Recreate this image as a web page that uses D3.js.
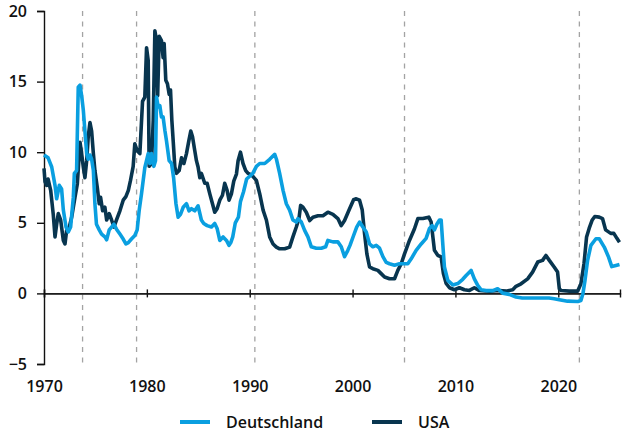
<!DOCTYPE html>
<html><head><meta charset="utf-8">
<script src="https://cdn.jsdelivr.net/npm/d3@7"></script>
<style>
html,body{margin:0;padding:0;background:#fff;}
svg{display:block;font-family:"Open Sans",sans-serif;}
</style></head>
<body><svg id="c" width="622" height="434"></svg>
<script>
// ---- data ----
const seriesNames = ["Deutschland", "USA"];
const colors = ["#0a9fe0", "#08354f"];
const yTicks = [-5, 0, 5, 10, 15, 20];
const xTicks = [1970, 1980, 1990, 2000, 2010, 2020];
const markerYears = [1973.75, 1979.0, 1990.5, 2005.05, 2022.05];

const deYears = [1970.0,1970.4,1970.75,1971.07,1971.23,1971.49,1971.71,1971.88,1972.14,1972.36,1972.59,1972.85,1972.95,1973.17,1973.33,1973.5,1973.66,1973.82,1973.98,1974.15,1974.3,1974.47,1974.63,1974.8,1974.95,1975.1,1975.37,1975.6,1975.92,1976.09,1976.34,1976.57,1976.8,1977.05,1977.38,1977.7,1977.96,1978.2,1978.5,1978.83,1979.06,1979.25,1979.48,1979.8,1980.03,1980.13,1980.29,1980.45,1980.68,1980.84,1980.94,1981.1,1981.26,1981.42,1981.58,1981.75,1981.91,1982.17,1982.4,1982.6,1982.83,1983.04,1983.27,1983.53,1983.85,1984.1,1984.34,1984.66,1984.98,1985.3,1985.53,1985.86,1986.28,1986.6,1986.83,1987.09,1987.41,1987.74,1987.99,1988.16,1988.35,1988.6,1988.9,1989.1,1989.4,1989.7,1990.0,1990.3,1990.65,1990.97,1991.46,1991.94,1992.43,1992.6,1992.91,1993.24,1993.56,1993.88,1994.2,1994.53,1994.69,1995.02,1995.34,1995.66,1995.99,1996.47,1996.96,1997.38,1997.6,1998.09,1998.57,1998.9,1999.22,1999.54,1999.75,2000.1,2000.4,2000.68,2001.0,2001.33,2001.65,2001.97,2002.3,2002.62,2002.95,2003.27,2003.59,2004.08,2004.56,2005.05,2005.37,2005.7,2006.18,2006.67,2007.15,2007.48,2007.73,2007.96,2008.19,2008.45,2008.61,2008.77,2008.93,2009.26,2009.74,2010.23,2010.71,2011.04,2011.52,2011.84,2012.17,2012.5,2012.98,2013.63,2014.1,2014.6,2015.24,2015.89,2016.5,2017.8,2019.1,2019.6,2020.1,2020.9,2021.9,2022.2,2022.4,2022.6,2022.85,2023.17,2023.66,2023.98,2024.47,2024.89,2025.2,2025.6,2025.95];
const deValues = [9.8,9.6,8.95,7.65,6.7,7.65,7.4,5.9,4.7,4.35,4.7,6.8,8.5,8.7,14.6,14.75,14.0,13.0,11.5,9.9,9.5,9.8,9.5,8.7,6.35,4.9,4.5,4.2,4.0,3.8,4.5,4.7,4.9,4.55,4.2,3.85,3.5,3.6,3.85,4.1,4.5,5.85,7.05,8.9,9.6,9.9,9.2,9.9,9.0,9.4,13.9,13.2,13.3,12.5,12.5,11.55,10.8,9.4,9.2,8.2,6.35,5.4,5.6,6.1,6.35,5.85,6.0,5.85,6.2,5.2,4.95,4.8,4.7,4.95,4.6,3.75,4.0,3.75,3.4,3.6,4.0,5.0,5.4,6.5,7.2,8.1,8.3,8.5,9.0,9.2,9.2,9.5,9.85,9.5,8.5,7.3,6.35,5.9,5.2,5.05,5.3,5.05,4.46,4.0,3.3,3.2,3.2,3.3,3.75,3.65,3.65,3.3,2.6,3.05,3.4,4.1,4.7,5.05,4.7,4.35,3.5,3.3,3.4,3.2,2.6,2.2,2.1,2.0,2.1,2.1,2.1,2.45,3.05,3.5,3.9,4.6,4.8,4.5,4.9,5.2,5.2,3.5,1.87,0.92,0.6,0.7,1.0,1.27,1.63,1.03,0.57,0.26,0.2,0.2,0.33,0.02,-0.07,-0.26,-0.33,-0.33,-0.33,-0.38,-0.45,-0.55,-0.57,-0.5,0.0,0.94,2.34,3.4,3.87,3.87,3.28,2.57,1.9,1.98,2.05];

const usYears = [1970.0,1970.1,1970.26,1970.4,1970.65,1970.9,1971.07,1971.23,1971.39,1971.62,1971.88,1972.04,1972.2,1972.46,1972.69,1973.01,1973.24,1973.5,1973.66,1973.82,1973.98,1974.15,1974.3,1974.47,1974.63,1974.8,1974.95,1975.18,1975.37,1975.5,1975.7,1975.92,1976.09,1976.34,1976.57,1976.8,1977.05,1977.38,1977.7,1977.96,1978.2,1978.41,1978.67,1978.83,1979.06,1979.32,1979.58,1979.8,1979.97,1980.13,1980.22,1980.45,1980.62,1980.78,1980.94,1981.05,1981.2,1981.42,1981.58,1981.68,1981.84,1982.0,1982.17,1982.3,1982.43,1982.56,1982.72,1982.88,1983.14,1983.37,1983.6,1983.85,1984.08,1984.27,1984.44,1984.66,1984.82,1984.98,1985.15,1985.3,1985.63,1985.86,1986.12,1986.38,1986.6,1986.83,1987.09,1987.35,1987.57,1987.8,1987.99,1988.22,1988.45,1988.71,1988.87,1989.1,1989.35,1989.61,1989.84,1990.17,1990.65,1990.97,1991.3,1991.62,1991.94,1992.27,1992.59,1992.91,1993.4,1993.88,1994.2,1994.53,1994.79,1994.95,1995.18,1995.5,1995.83,1996.15,1996.64,1997.12,1997.6,1998.09,1998.57,1998.9,1999.22,1999.71,2000.1,2000.36,2000.68,2000.94,2001.17,2001.39,2001.65,2001.97,2002.46,2002.78,2003.11,2003.59,2004.08,2004.4,2004.73,2005.05,2005.53,2006.02,2006.35,2006.83,2007.41,2007.64,2007.96,2008.28,2008.61,2008.83,2009.1,2009.42,2009.9,2010.39,2010.87,2011.36,2011.84,2012.3,2013.3,2014.27,2014.92,2015.57,2015.89,2016.38,2017.02,2017.5,2018.0,2018.47,2018.8,2019.13,2019.6,2019.93,2020.1,2020.26,2021.07,2021.88,2022.2,2022.5,2022.75,2023.0,2023.3,2023.55,2023.98,2024.3,2024.6,2025.1,2025.4,2025.7,2025.95];
const usValues = [8.85,7.9,7.65,8.1,7.3,5.6,4.0,4.9,5.65,5.2,3.75,3.5,4.45,4.7,5.4,6.8,7.75,10.7,9.9,8.95,8.2,9.4,11.1,12.1,11.5,9.9,8.7,7.5,6.35,6.8,5.85,6.1,5.2,5.65,5.2,4.7,5.2,5.85,6.6,6.85,7.3,8.0,9.0,10.6,10.1,9.9,13.6,13.9,17.4,16.5,9.0,9.2,12.25,18.6,17.9,14.0,18.2,17.9,16.7,17.7,15.1,14.85,14.1,14.4,12.25,10.8,8.95,8.5,8.7,9.6,9.2,9.9,10.8,11.5,11.1,10.1,9.4,8.95,8.2,8.5,7.8,7.8,7.05,6.35,5.75,6.0,6.6,6.95,7.8,7.3,6.6,7.05,7.95,8.45,9.4,10.0,9.2,8.7,8.5,8.4,8.0,7.06,5.9,5.2,4.0,3.5,3.28,3.16,3.16,3.28,4.0,4.7,5.3,6.23,6.1,5.75,5.16,5.4,5.5,5.5,5.75,5.6,5.3,4.8,5.16,6.0,6.63,6.7,6.6,5.9,4.2,2.8,1.87,1.75,1.63,1.4,1.16,1.04,1.04,1.63,2.1,2.8,3.75,4.58,5.3,5.3,5.4,5.05,3.05,2.7,2.58,1.4,0.7,0.4,0.26,0.4,0.26,0.21,0.4,0.21,0.16,0.2,0.16,0.26,0.5,0.68,1.03,1.51,2.22,2.34,2.69,2.34,1.87,1.51,0.33,0.2,0.16,0.16,0.68,2.1,4.0,4.6,5.2,5.45,5.4,5.3,4.5,4.25,4.25,3.9,3.63];

// ---- chart ----
const svg = d3.select("#c");
const x = d3.scaleLinear().domain([1970, 2026]).range([44, 620]);
const y = d3.scaleLinear().domain([-5, 20]).range([364, 11]);
const fontSize = 16;

// dashed markers
svg.append("g").selectAll("line").data(markerYears).join("line")
  .attr("x1", d => x(d)).attr("x2", d => x(d))
  .attr("y1", y(20)).attr("y2", y(-5))
  .attr("stroke", "#a3a3a3").attr("stroke-width", 1.3)
  .attr("stroke-dasharray", "5,5.5");

// y axis
const yAxis = svg.append("g").attr("transform", `translate(${x(1970)},0)`)
  .call(d3.axisLeft(y).tickValues(yTicks).tickSize(7).tickPadding(10)
    .tickFormat(d => d < 0 ? "\u2212" + Math.abs(d) : d));
yAxis.selectAll("text").attr("font-size", fontSize).attr("font-weight", 600)
  .attr("fill", "#111").attr("font-family", "Open Sans, sans-serif");
yAxis.selectAll("path,line").attr("stroke", "#111").attr("stroke-width", 1.4);

// zero line with crossing ticks
const zb = svg.append("g").attr("transform", `translate(0,${y(0)})`)
  .call(d3.axisBottom(x).tickValues(xTicks).tickSize(4).tickFormat(""));
const zt = svg.append("g").attr("transform", `translate(0,${y(0)})`)
  .call(d3.axisTop(x).tickValues(xTicks).tickSize(4).tickFormat(""));
[zb, zt].forEach(g => g.selectAll("path,line").attr("stroke", "#111").attr("stroke-width", 1.4));

// x labels
const xl = svg.append("g").attr("transform", `translate(0,${y(-5)})`)
  .call(d3.axisBottom(x).tickValues(xTicks).tickSize(0).tickPadding(17).tickFormat(d3.format("d")));
xl.select(".domain").remove();
xl.selectAll("text").attr("font-size", fontSize).attr("font-weight", 600)
  .attr("fill", "#111").attr("font-family", "Open Sans, sans-serif");

// lines
const line = d3.line().x(d => x(d[0])).y(d => y(d[1]));
const deData = d3.zip(deYears, deValues);
const usData = d3.zip(usYears, usValues);
svg.append("path").datum(usData).attr("d", line).attr("fill", "none")
  .attr("stroke", colors[1]).attr("stroke-width", 3.6).attr("stroke-linejoin", "round");
svg.append("path").datum(deData).attr("d", line).attr("fill", "none")
  .attr("stroke", colors[0]).attr("stroke-width", 3.6).attr("stroke-linejoin", "round");

// legend
const legX = [180, 372];
const leg = svg.append("g").selectAll("g").data(seriesNames).join("g")
  .attr("transform", (d, i) => `translate(${legX[i]},422)`);
leg.append("line").attr("x1", 0).attr("x2", 30).attr("y1", 0).attr("y2", 0)
  .attr("stroke", (d, i) => colors[i]).attr("stroke-width", 4);
leg.append("text").attr("x", 46).attr("y", 0).attr("dy", "0.35em")
  .attr("font-size", fontSize).attr("font-weight", 600).attr("fill", "#111")
  .text(d => d);
</script></body></html>
